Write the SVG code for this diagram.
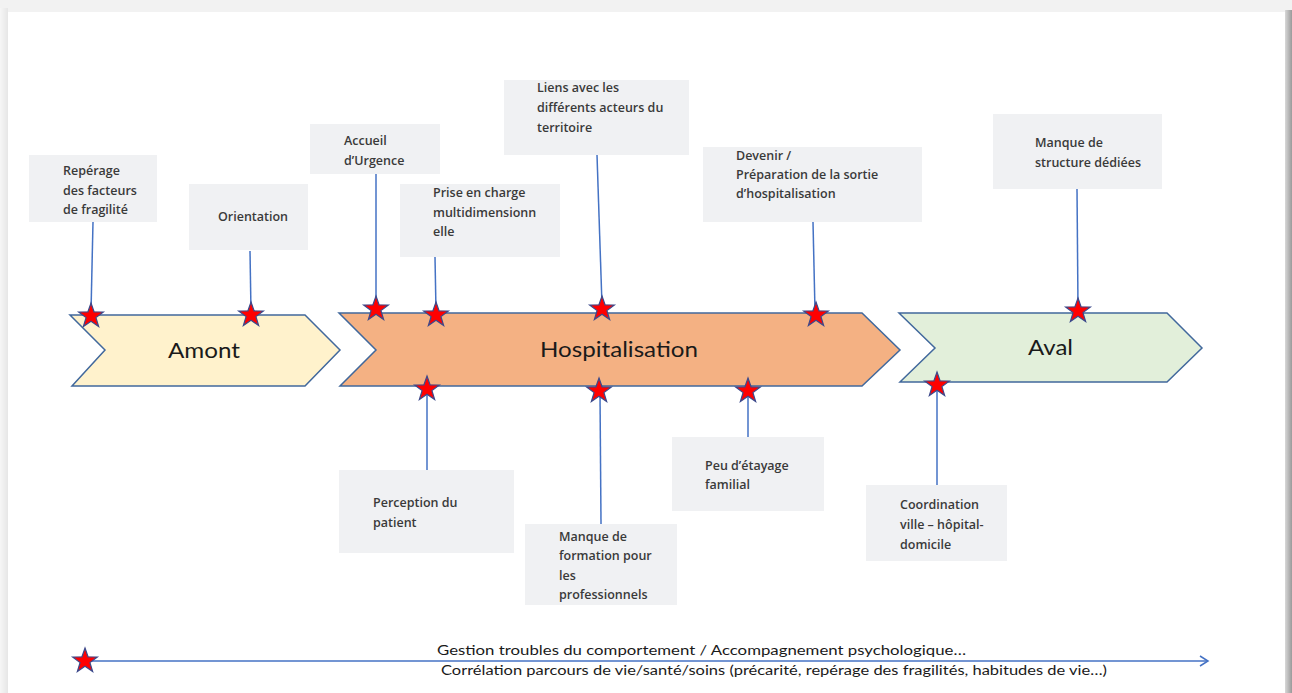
<svg xmlns="http://www.w3.org/2000/svg" width="1292" height="693" viewBox="0 0 1292 693">
<style>
.box{fill:#f0f1f3}
.bt{font-family:"Open Sans","Noto Sans",sans-serif;font-weight:600;font-size:12.5px;fill:#3a3a3a}
.ln{stroke:#4472c4;stroke-width:1.5;fill:none}
.chev{stroke:#41689c;stroke-width:1.5}
.ct{font-family:Lato,"Open Sans",sans-serif;font-size:22px;fill:#1a1a1a}
.lg{font-family:Lato,"Open Sans",sans-serif;font-size:13.5px;fill:#1a1a1a}
.star{fill:#ff0000;stroke:#3b4a8c;stroke-width:1.2}
</style>
<defs>
<path id="star" d="M0,-13 L3.06,-4.21 L12.36,-4.02 L4.95,1.61 L7.64,10.52 L0,5.2 L-7.64,10.52 L-4.95,1.61 L-12.36,-4.02 L-3.06,-4.21 Z"/>
<linearGradient id="rs" x1="0" y1="0" x2="1" y2="0">
<stop offset="0" stop-color="#d8d8d8"/><stop offset="1" stop-color="#9a9a9a"/>
</linearGradient>
<linearGradient id="ls" x1="0" y1="0" x2="1" y2="0">
<stop offset="0" stop-color="#f6f6f6"/><stop offset="1" stop-color="#e6e6e6"/>
</linearGradient>
<marker id="arr" markerWidth="12" markerHeight="12" refX="10" refY="6" orient="auto" markerUnits="userSpaceOnUse">
<path d="M2,1 L10,6 L2,11" fill="none" stroke="#4472c4" stroke-width="1.5"/>
</marker>
</defs>
<g id="page">
<rect x="0" y="0" width="1292" height="693" fill="#f2f2f2"/>
<rect x="0" y="8" width="8" height="685" fill="url(#ls)"/>
<rect x="1285" y="10" width="7" height="683" fill="url(#rs)"/>
<rect x="8" y="12" width="1277" height="681" fill="#ffffff"/>
</g>
<g id="connectors">
<line class="ln" x1="93" y1="222" x2="91" y2="312"/>
<line class="ln" x1="250" y1="251" x2="251" y2="312"/>
<line class="ln" x1="376" y1="174" x2="376" y2="305"/>
<line class="ln" x1="435" y1="257" x2="436" y2="311"/>
<line class="ln" x1="597" y1="155" x2="602" y2="305"/>
<line class="ln" x1="813" y1="222" x2="815" y2="311"/>
<line class="ln" x1="1077" y1="189" x2="1078" y2="307"/>
<line class="ln" x1="427" y1="392" x2="427" y2="470"/>
<line class="ln" x1="600" y1="394" x2="601" y2="524"/>
<line class="ln" x1="748" y1="394" x2="748" y2="437"/>
<line class="ln" x1="937" y1="388" x2="937" y2="485"/>
<line class="ln" x1="85" y1="661" x2="1208" y2="661" marker-end="url(#arr)"/>
</g>
<g id="amont">
<path class="chev" d="M70,315 L305,315 L340,350 L305,386 L72,386 L105,350 Z" fill="#fff2cc"/>
<text class="ct" x="168" y="358" textLength="72" lengthAdjust="spacingAndGlyphs">Amont</text>
</g>
<g id="hospitalisation">
<path class="chev" d="M339,313 L862,313 L900,350 L862,386 L340,386 L376,350 Z" fill="#f4b183"/>
<text class="ct" x="540" y="357" textLength="158" lengthAdjust="spacingAndGlyphs">Hospitalisation</text>
</g>
<g id="aval">
<path class="chev" d="M899,313 L1167,313 L1202,348 L1167,382 L900,382 L935,348 Z" fill="#e2efda"/>
<text class="ct" x="1028" y="355" textLength="45" lengthAdjust="spacingAndGlyphs">Aval</text>
</g>
<g id="n-reperage">
<rect class="box" x="29" y="155" width="128" height="67"/>
<text class="bt" x="63"><tspan x="63" y="175">Repérage</tspan><tspan x="63" y="195">des facteurs</tspan><tspan x="63" y="214">de fragilité</tspan></text>
</g>
<g id="n-orientation">
<rect class="box" x="189" y="184" width="119" height="66"/>
<text class="bt" x="218" y="221">Orientation</text>
</g>
<g id="n-accueil">
<rect class="box" x="310" y="124" width="130" height="50"/>
<text class="bt"><tspan x="344" y="145">Accueil</tspan><tspan x="344" y="165">d’Urgence</tspan></text>
</g>
<g id="n-prise">
<rect class="box" x="400" y="184" width="160" height="73"/>
<text class="bt"><tspan x="433" y="197">Prise en charge</tspan><tspan x="433" y="217">multidimensionn</tspan><tspan x="433" y="236">elle</tspan></text>
</g>
<g id="n-liens">
<rect class="box" x="504" y="80" width="185" height="75"/>
<text class="bt"><tspan x="537" y="92">Liens avec les</tspan><tspan x="537" y="112">différents acteurs du</tspan><tspan x="537" y="132">territoire</tspan></text>
</g>
<g id="n-devenir">
<rect class="box" x="703" y="147" width="219" height="75"/>
<text class="bt"><tspan x="736" y="160">Devenir /</tspan><tspan x="736" y="179">Préparation de la sortie</tspan><tspan x="736" y="198">d’hospitalisation</tspan></text>
</g>
<g id="n-structure">
<rect class="box" x="993" y="114" width="169" height="75"/>
<text class="bt"><tspan x="1035" y="147">Manque de</tspan><tspan x="1035" y="167">structure dédiées</tspan></text>
</g>
<g id="n-perception">
<rect class="box" x="339" y="470" width="175" height="83"/>
<text class="bt"><tspan x="373" y="507">Perception du</tspan><tspan x="373" y="527">patient</tspan></text>
</g>
<g id="n-formation">
<rect class="box" x="525" y="524" width="152" height="81"/>
<text class="bt"><tspan x="559" y="541">Manque de</tspan><tspan x="559" y="560">formation pour</tspan><tspan x="559" y="580">les</tspan><tspan x="559" y="599">professionnels</tspan></text>
</g>
<g id="n-etayage">
<rect class="box" x="672" y="437" width="152" height="74"/>
<text class="bt"><tspan x="705" y="470">Peu d’étayage</tspan><tspan x="705" y="489">familial</tspan></text>
</g>
<g id="n-coordination">
<rect class="box" x="866" y="485" width="141" height="76"/>
<text class="bt"><tspan x="900" y="509">Coordination</tspan><tspan x="900" y="529">ville – hôpital-</tspan><tspan x="900" y="549">domicile</tspan></text>
</g>
<g id="stars">
<use href="#star" class="star" x="91" y="316"/>
<use href="#star" class="star" x="251" y="315"/>
<use href="#star" class="star" x="376" y="309"/>
<use href="#star" class="star" x="436" y="315"/>
<use href="#star" class="star" x="602" y="309"/>
<use href="#star" class="star" x="816" y="315"/>
<use href="#star" class="star" x="1078" y="311"/>
<use href="#star" class="star" x="427" y="389"/>
<use href="#star" class="star" x="599" y="391"/>
<use href="#star" class="star" x="748" y="391"/>
<use href="#star" class="star" x="937" y="385"/>
<use href="#star" class="star" x="85" y="661"/>
</g>
<g id="legend">
<text class="lg" x="437" y="655" textLength="529" lengthAdjust="spacingAndGlyphs">Gestion troubles du comportement / Accompagnement psychologique…</text>
<text class="lg" x="441" y="675" textLength="666" lengthAdjust="spacingAndGlyphs">Corrélation parcours de vie/santé/soins (précarité, repérage des fragilités, habitudes de vie…)</text>
</g>
</svg>
